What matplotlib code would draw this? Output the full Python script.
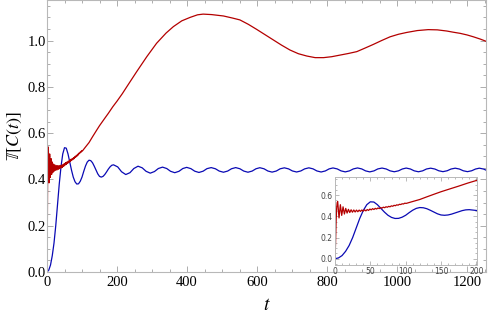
import matplotlib
matplotlib.use("Agg")
import matplotlib.pyplot as plt
from matplotlib.ticker import MultipleLocator

plt.rcParams['mathtext.fontset'] = 'stix'

# ---------------- data ----------------
blue_t = [0, 5, 10, 15, 20, 25, 30, 35, 40, 45, 50, 55, 60, 65, 70, 75, 80, 85, 90, 95,
          100, 105, 110, 115, 120, 125, 130, 135, 140, 145, 150, 155, 160, 165, 170, 175,
          180, 185, 190,
          202, 213, 225, 237, 248, 260, 272, 283, 295, 307, 318,
          330, 342, 353, 365, 377, 388,
          399, 411, 422, 434, 446, 457,
          469, 481, 492, 504, 516, 527,
          539, 551, 562, 574, 586, 597,
          608, 620, 631, 643, 655, 666,
          678, 690, 701, 713, 725, 736,
          748, 760, 771, 783, 795, 806,
          817, 829, 840, 852, 864, 875,
          887, 899, 910, 922, 934, 945,
          957, 969, 980, 992, 1004, 1015,
          1026, 1038, 1049, 1061, 1073, 1084,
          1096, 1108, 1119, 1131, 1143, 1154,
          1166, 1178, 1189, 1201, 1213, 1224,
          1235, 1247, 1258]
blue_v = [0.0, 0.008, 0.03, 0.07, 0.125, 0.2, 0.29, 0.38, 0.455, 0.51, 0.537, 0.535, 0.51,
          0.475, 0.44, 0.41, 0.39, 0.38, 0.381, 0.392,
          0.41, 0.435, 0.458, 0.475, 0.483, 0.481, 0.472, 0.457, 0.44, 0.424, 0.413, 0.41,
          0.413, 0.421, 0.432, 0.444, 0.454, 0.461, 0.463,
          0.454, 0.433, 0.421, 0.429, 0.447, 0.457, 0.450, 0.435, 0.427, 0.434, 0.447,
          0.453, 0.447, 0.435, 0.429, 0.435, 0.447,
          0.452, 0.4465, 0.4355, 0.430, 0.4355, 0.4465,
          0.451, 0.446, 0.436, 0.431, 0.436, 0.446,
          0.451, 0.446, 0.436, 0.431, 0.436, 0.446,
          0.4505, 0.4458, 0.4362, 0.4315, 0.4362, 0.4458,
          0.450, 0.4455, 0.4365, 0.432, 0.4365, 0.4455,
          0.450, 0.4455, 0.4365, 0.432, 0.4365, 0.4455,
          0.4495, 0.4453, 0.4368, 0.4325, 0.4368, 0.4453,
          0.4495, 0.4453, 0.4368, 0.4325, 0.4368, 0.4453,
          0.449, 0.445, 0.437, 0.433, 0.437, 0.445,
          0.449, 0.445, 0.437, 0.433, 0.437, 0.445,
          0.4485, 0.4448, 0.4373, 0.4335, 0.4373, 0.4448,
          0.4485, 0.4448, 0.4373, 0.4335, 0.4373, 0.4448,
          0.4485, 0.4448, 0.4373]

red_t = [0, 0.8, 1.6, 2.4, 3.1, 3.8, 5.7, 7.6, 9.5, 11.4, 13.3, 15.2, 17.1, 19.0, 20.9,
         22.8, 24.7, 26.6, 28.5, 30.4, 32.3, 34.2, 36.1, 38.0, 39.9, 41.8, 43.7, 45.6,
         47.5, 49.4, 51.3, 53.2, 55.1, 57.0, 58.9, 60.8, 62.7, 64.6, 66.5, 68.4, 70.3,
         72.2, 74.1, 76.0, 77.9, 79.8, 81.7, 83.6, 85.5, 87.4, 89.3, 91.2, 93.1, 95.0,
         96.9, 98.8, 100.7,
         110, 120, 130, 142, 150, 165, 175, 188, 200, 215, 230, 256, 285, 313, 340, 361,
         385, 409, 430, 446, 470, 504, 530, 551, 575, 599, 623, 647, 670, 694, 718, 742,
         766, 790, 813, 837, 861, 885, 908, 932, 956, 980, 1004, 1028, 1058, 1089, 1115,
         1142, 1160, 1180, 1200, 1218, 1238, 1257]
red_v = [0.0, 0.15, 0.36, 0.48, 0.53, 0.54, 0.385, 0.51, 0.409, 0.490, 0.422, 0.475,
         0.431, 0.466, 0.436, 0.462, 0.439, 0.460, 0.441, 0.459, 0.4435, 0.459, 0.4465,
         0.460, 0.4492, 0.4615, 0.4517, 0.464, 0.456, 0.4688, 0.4613, 0.4725, 0.4646,
         0.4753, 0.4688, 0.479, 0.473, 0.483, 0.4772, 0.4867, 0.4814, 0.4905, 0.4856,
         0.4943, 0.4898, 0.4991, 0.495, 0.504, 0.5001, 0.5088, 0.5053, 0.5136, 0.5115,
         0.5184, 0.5167, 0.5242, 0.522,
         0.540, 0.559, 0.584, 0.613, 0.632, 0.664, 0.685, 0.714, 0.738, 0.77, 0.805,
         0.865, 0.93, 0.988, 1.032, 1.06, 1.085, 1.100, 1.111, 1.114, 1.112, 1.106,
         1.097, 1.089, 1.07, 1.048, 1.025, 1.002, 0.98, 0.959, 0.943, 0.933, 0.926,
         0.926, 0.93, 0.937, 0.944, 0.952, 0.967, 0.983, 1.0, 1.016, 1.027, 1.035,
         1.043, 1.047, 1.046, 1.041, 1.036, 1.031, 1.024, 1.016, 1.006, 0.995]

main_xticks = [0, 200, 400, 600, 800, 1000, 1200]
main_yticks = [0.0, 0.2, 0.4, 0.6, 0.8, 1.0]
inset_xticks = [0, 50, 100, 150, 200]
inset_yticks = [0.0, 0.2, 0.4, 0.6]

RED = '#b40000'
BLUE = '#0a0ab4'
FRAME = '#b8b8b8'

fig = plt.figure(figsize=(4.88, 3.18), dpi=100)
ax = fig.add_axes([47/488, (318-272)/318, 439/488, 272/318])

ax.plot(blue_t, blue_v, color=BLUE, lw=0.9)
ax.plot(red_t, red_v, color=RED, lw=0.9)
ax.set_xlim(0, 1254)
ax.set_ylim(0, 1.175)
ax.set_xticks(main_xticks)
ax.set_yticks(main_yticks)
ax.set_xticklabels([str(v) for v in main_xticks], family='Liberation Serif', fontsize=10.5)
ax.set_yticklabels(['%.1f' % v for v in main_yticks], family='Liberation Serif', fontsize=10.5)
ax.xaxis.set_minor_locator(MultipleLocator(50))
ax.yaxis.set_minor_locator(MultipleLocator(0.05))
ax.tick_params(which='both', direction='in', top=True, right=True, color='#a0a0a0', width=0.6)
ax.tick_params(which='major', length=4)
ax.tick_params(which='minor', length=2.2)
ax.tick_params(axis='x', pad=3)
ax.tick_params(axis='y', pad=1)
for s in ax.spines.values():
    s.set_color(FRAME)
    s.set_linewidth(0.8)
ax.set_xlabel(r'$t$', fontsize=14, labelpad=4)
ax.set_ylabel(r'$\mathbb{T}[C(t)]$', fontsize=13, labelpad=2)

# inset
axi = fig.add_axes([335/488, (318-265)/318, 142/488, 88.3/318])
axi.plot(blue_t, blue_v, color=BLUE, lw=0.9)
axi.plot(red_t, red_v, color=RED, lw=0.9)
axi.set_xlim(0, 201)
axi.set_ylim(-0.059, 0.774)
axi.set_xticks(inset_xticks)
axi.set_yticks(inset_yticks)
axi.set_xticklabels([str(v) for v in inset_xticks], fontsize=5.5, color='#444444')
axi.set_yticklabels(['%.1f' % v for v in inset_yticks], fontsize=5.5, color='#444444')
axi.xaxis.set_minor_locator(MultipleLocator(10))
axi.yaxis.set_minor_locator(MultipleLocator(0.05))
axi.tick_params(which='both', direction='in', top=True, right=True, color='#a0a0a0', width=0.5)
axi.tick_params(which='major', length=3, pad=1.5)
axi.tick_params(which='minor', length=1.5)
for s in axi.spines.values():
    s.set_color(FRAME)
    s.set_linewidth(0.7)
axi.patch.set_facecolor('white')

fig.savefig('out.png', dpi=100)
